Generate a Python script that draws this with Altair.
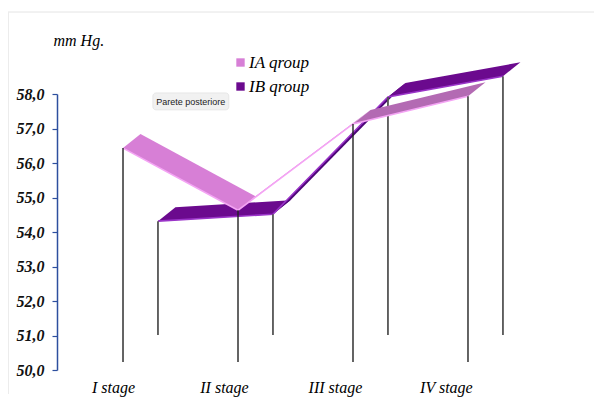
import json
import altair as alt
import pandas as pd

# ---------------- data ----------------
stages = ["I stage", "II stage", "III stage", "IV stage"]
series_names = ["IA qroup", "IB qroup"]
ia_values = [56.2, 54.4, 56.9, 57.7]
ib_values = [53.3, 53.5, 56.9, 57.5]
y_ticks = [50, 51, 52, 53, 54, 55, 56, 57, 58]
tooltip_text = ["Parete posteriore"]

SERIF = "Liberation Serif, Times New Roman, serif"

# ---------------- pseudo-3D styling (axis units) ----------------
Y_MIN, Y_MAX = 50.0, 58.0
series_depth = {"IA qroup": (0.0, 0.232), "IB qroup": (0.304, 1.014)}
ribbon_dx, ribbon_dy = 0.152, 0.406
label_start, label_step = -0.087, 0.965


def build(name, vals, shades):
    ox, oy = series_depth[name]
    polys, drops, edges = [], [], []
    for i, v in enumerate(vals):
        drops.append(dict(series=name, x=i + ox, y=v + oy, y2=Y_MIN + oy))
        edges.append(dict(series=name, x=i + ox, y=v + oy, k=i))
    for i in range(len(vals) - 1):
        pid = f"{name}-{i}"
        pts = [
            (i + ox, vals[i] + oy),
            (i + 1 + ox, vals[i + 1] + oy),
            (i + 1 + ox + ribbon_dx, vals[i + 1] + oy + ribbon_dy),
            (i + ox + ribbon_dx, vals[i] + oy + ribbon_dy),
        ]
        for k, (px, py) in enumerate(pts):
            polys.append(dict(series=shades[i], poly=pid, k=k, x=px, y=py))
    return pd.DataFrame(polys), pd.DataFrame(drops), pd.DataFrame(edges)


ia_poly, ia_drop, ia_edge = build("IA qroup", ia_values, ["IA qroup", "IA qroup", "IA shade"])
ib_poly, ib_drop, ib_edge = build("IB qroup", ib_values, ["IB qroup", "IB dark", "IB qroup"])

x_scale = alt.Scale(domain=[-0.574, 4.061], nice=False, zero=False)
y_scale = alt.Scale(domain=[Y_MIN, Y_MAX], nice=False, zero=False)
color_scale = alt.Scale(
    domain=["IA qroup", "IB qroup", "IA shade", "IB dark"],
    range=["#d77fd6", "#6b0a8e", "#b36ab3", "#4e0678"],
)

label_expr = (
    json.dumps(stages)
    + f"[round((datum.value - ({label_start})) / {label_step})]"
)

x_axis = alt.Axis(
    values=[label_start + label_step * i for i in range(len(stages))],
    labelExpr=label_expr,
    labelOverlap=False,
    title=None,
    domain=False,
    ticks=False,
    grid=False,
    labelFont=SERIF,
    labelFontStyle="italic",
    labelFontWeight="normal",
    labelFontSize=16,
    labelColor="#000000",
    labelPadding=9,
)
y_axis = alt.Axis(
    values=y_ticks,
    labelExpr="replace(format(datum.value, '.1f'), '.', ',')",
    labelOverlap=False,
    title="mm Hg.",
    titleAngle=0,
    titleX=-4,
    titleY=-54,
    titleAlign="left",
    titleBaseline="middle",
    titleFont=SERIF,
    titleFontStyle="italic",
    titleFontWeight="normal",
    titleFontSize=16,
    titleColor="#000000",
    domainColor="#2d4f9e",
    domainWidth=1.5,
    ticks=True,
    tickColor="#2d4f9e",
    tickSize=5,
    tickWidth=1.2,
    grid=False,
    labelFont=SERIF,
    labelFontStyle="italic",
    labelFontWeight="bold",
    labelFontSize=16,
    labelColor="#111111",
    labelPadding=8,
)

X = lambda f: alt.X(f, scale=x_scale, axis=x_axis)
Y = lambda f: alt.Y(f, scale=y_scale, axis=y_axis)


def ribbon(df, main):
    enc_color = alt.Color(
        "series:N",
        scale=color_scale,
        legend=alt.Legend(
            values=series_names,
            title=None,
            orient="none",
            legendX=175,
            legendY=-40,
            symbolType="square",
            symbolSize=70,
            symbolStrokeWidth=0,
            symbolOpacity=1,
            labelFont=SERIF,
            labelFontStyle="italic",
            labelFontSize=17,
            labelColor="#000000",
            rowPadding=6,
            labelOffset=0,
        )
        if main
        else None,
    )
    return (
        alt.Chart(df)
        .mark_line(filled=True, strokeWidth=0.6, interpolate="linear")
        .encode(x=X("x:Q"), y=Y("y:Q"), color=enc_color, detail="poly:N", order="k:Q")
    )


def edge(df, color):
    return (
        alt.Chart(df)
        .mark_line(strokeWidth=1.6, color=color)
        .encode(x=X("x:Q"), y=Y("y:Q"), order="k:Q")
    )


def drop(df, color, w):
    return (
        alt.Chart(df)
        .mark_rule(color=color, strokeWidth=w)
        .encode(x=X("x:Q"), y=Y("y:Q"), y2="y2:Q")
    )


tip_df = pd.DataFrame(
    dict(text=tooltip_text, x=[0.26], x2=[0.92], y=[58.03], y2=[57.54], xc=[0.59], yc=[57.78])
)
tip_box = (
    alt.Chart(tip_df)
    .mark_rect(color="#f1f1f1", stroke="#e2e2e2", strokeWidth=0.8, cornerRadius=3)
    .encode(x=X("x:Q"), x2="x2:Q", y=Y("y:Q"), y2="y2:Q")
)
tip_text = (
    alt.Chart(tip_df)
    .mark_text(font="Liberation Sans", fontSize=9, color="#222222")
    .encode(x=X("xc:Q"), y=Y("yc:Q"), text="text:N")
)

frame_top = alt.Chart(pd.DataFrame({"a": [0]})).mark_rule(color="#e4e4e4", strokeWidth=1).encode(
    x=alt.value(-49), x2=alt.value(545), y=alt.value(-82)
)
frame_left = alt.Chart(pd.DataFrame({"a": [0]})).mark_rule(color="#ececec", strokeWidth=2).encode(
    x=alt.value(-49), y=alt.value(-82), y2=alt.value(300)
)

chart = (
    alt.layer(
        frame_top,
        frame_left,
        ribbon(ib_poly, True),
        edge(ib_edge, "#9a34c8"),
        drop(ib_drop, "#555555", 1.8),
        ribbon(ia_poly, False),
        edge(ia_edge, "#f4a4f4"),
        drop(ia_drop, "#222222", 1.4),
        tip_box,
        tip_text,
    )
    .properties(
        width=533,
        height=276,
        autosize=alt.AutoSizeParams(type="none"),
        padding={"left": 49, "top": 86, "right": 4, "bottom": 27},
        background="#ffffff",
    )
    .configure_view(stroke=None)
    .configure_axis(labelFont=SERIF, titleFont=SERIF)
    .configure_legend(labelFont=SERIF)
)

chart.save("out.html", embed_options={"renderer": "svg", "actions": False})
